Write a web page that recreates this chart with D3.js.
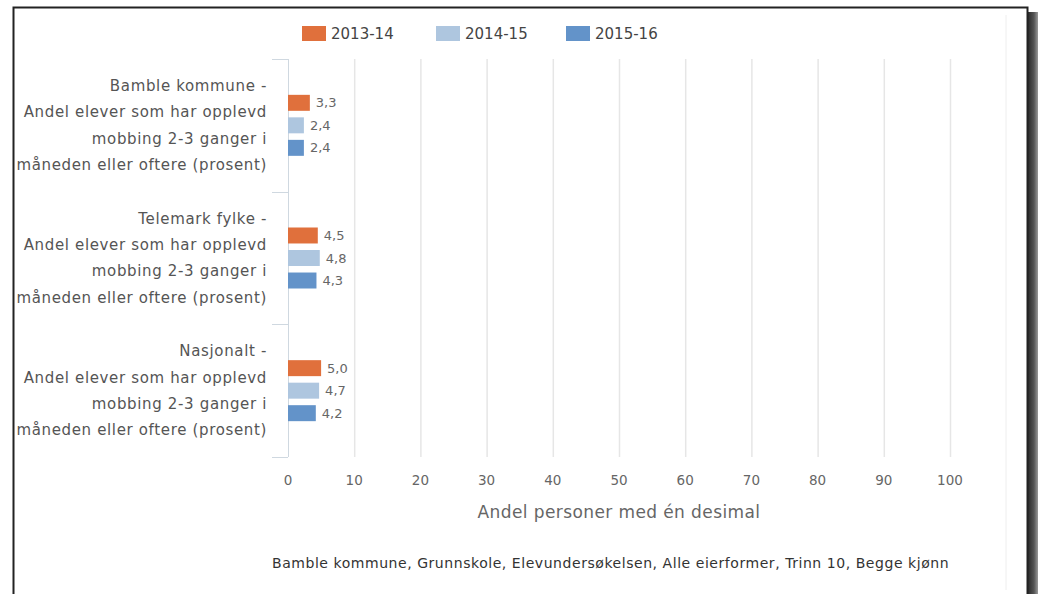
<!DOCTYPE html>
<html>
<head>
<meta charset="utf-8">
<script src="https://cdn.jsdelivr.net/npm/d3@7"></script>
<style>
    html, body { margin: 0; padding: 0; background: #fff; }
    svg { display: block; font-family: "DejaVu Sans", Verdana, sans-serif; }
</style>
</head>
<body>
<div id="chart"></div>
<script>
// Chart data
const categories = ["Bamble kommune", "Telemark fylke", "Nasjonalt"];
const labelLines = [
    ["Bamble kommune -", "Andel elever som har opplevd", "mobbing 2-3 ganger i", "måneden eller oftere (prosent)"],
    ["Telemark fylke -", "Andel elever som har opplevd", "mobbing 2-3 ganger i", "måneden eller oftere (prosent)"],
    ["Nasjonalt -", "Andel elever som har opplevd", "mobbing 2-3 ganger i", "måneden eller oftere (prosent)"]
];
const seriesNames = ["2013-14", "2014-15", "2015-16"];
const values2013 = [3.3, 4.5, 5.0];
const values2014 = [2.4, 4.8, 4.7];
const values2015 = [2.4, 4.3, 4.2];
const xTicks = [0, 10, 20, 30, 40, 50, 60, 70, 80, 90, 100];
const axisTitle = "Andel personer med én desimal";
const caption = "Bamble kommune, Grunnskole, Elevundersøkelsen, Alle eierformer, Trinn 10, Begge kjønn";

const colors = ["#e0703c", "#aec6df", "#6393c9"];
const allValues = [values2013, values2014, values2015];

const width = 1038, height = 594;
const plot = { left: 288, right: 950, top: 59, bottom: 457 };

const svg = d3.select("#chart")
    .append("svg")
    .attr("width", width)
    .attr("height", height);

// Screenshot frame + drop shadow on the right
const defs = svg.append("defs");
const grad = defs.append("linearGradient").attr("id", "shadow").attr("x1", 0).attr("x2", 1);
grad.append("stop").attr("offset", 0).attr("stop-color", "#2a2a2a");
grad.append("stop").attr("offset", 0.6).attr("stop-color", "#555");
grad.append("stop").attr("offset", 1).attr("stop-color", "#9a9a9a");
svg.append("rect").attr("x", 1028).attr("y", 12).attr("width", 10).attr("height", height - 12)
    .attr("fill", "url(#shadow)");
svg.append("path")
    .attr("d", `M13.5,${height} V7.5 H1027.5 V${height}`)
    .attr("fill", "none").attr("stroke", "#222").attr("stroke-width", 2);
svg.append("line").attr("x1", 1006).attr("x2", 1006).attr("y1", 15).attr("y2", 590)
    .attr("stroke", "#eeeeee");

// Scales
const xScale = d3.scaleLinear().domain([0, 100]).range([plot.left, plot.right]);
const yScale = d3.scaleBand().domain(categories).range([plot.top, plot.bottom]);
const ySub = d3.scaleBand().domain(seriesNames).range([-30.5, 30.5]).paddingInner(0.29);

// Gridlines
svg.append("g")
    .selectAll("line")
    .data(xTicks.slice(1))
    .enter().append("line")
    .attr("x1", d => xScale(d) + 0.5).attr("x2", d => xScale(d) + 0.5)
    .attr("y1", plot.top).attr("y2", plot.bottom)
    .attr("stroke", "#e6e6e6").attr("stroke-width", 1.5);

// Category axis line and ticks between categories
svg.append("line")
    .attr("x1", plot.left + 0.5).attr("x2", plot.left + 0.5)
    .attr("y1", plot.top).attr("y2", plot.bottom)
    .attr("stroke", "#cfd8e0");
const boundaries = categories.map(c => yScale(c)).concat([plot.bottom]);
svg.append("g")
    .selectAll("line")
    .data(boundaries)
    .enter().append("line")
    .attr("x1", 272).attr("x2", plot.left)
    .attr("y1", d => Math.round(d) + 0.5).attr("y2", d => Math.round(d) + 0.5)
    .attr("stroke", "#cfd8e0");

// Category labels (multi-line, right aligned)
const catLabels = svg.append("g");
categories.forEach((c, i) => {
    const cy = yScale(c) + yScale.bandwidth() / 2;
    const lines = labelLines[i];
    lines.forEach((t, j) => {
        catLabels.append("text")
            .attr("x", 267)
            .attr("y", cy + (j - (lines.length - 1) / 2) * 26.3)
            .attr("dy", "0.35em")
            .attr("text-anchor", "end")
            .attr("font-size", 15)
            .attr("letter-spacing", 0.65)
            .attr("fill", "#555")
            .text(t);
    });
});

// Bars + value labels
seriesNames.forEach((s, si) => {
    const g = svg.append("g");
    categories.forEach((c, ci) => {
        const v = allValues[si][ci];
        const y0 = yScale(c) + yScale.bandwidth() / 2 + ySub(s);
        g.append("rect")
            .attr("x", xScale(0))
            .attr("y", y0)
            .attr("width", xScale(v) - xScale(0))
            .attr("height", ySub.bandwidth())
            .attr("fill", colors[si]);
        g.append("text")
            .attr("x", xScale(v) + 6)
            .attr("y", y0 + ySub.bandwidth() / 2)
            .attr("dy", "0.35em")
            .attr("font-size", 13)
            .attr("fill", "#666")
            .text(d3.format(".1f")(v).replace(".", ","));
    });
});

// X axis labels
svg.append("g")
    .selectAll("text")
    .data(xTicks)
    .enter().append("text")
    .attr("x", d => xScale(d))
    .attr("y", 480)
    .attr("dy", "0.35em")
    .attr("text-anchor", "middle")
    .attr("font-size", 13.5)
    .attr("fill", "#666")
    .text(d => d);

// Axis title
svg.append("text")
    .attr("x", (plot.left + plot.right) / 2)
    .attr("y", 512)
    .attr("dy", "0.35em")
    .attr("text-anchor", "middle")
    .attr("font-size", 17)
    .attr("letter-spacing", 0.4)
    .attr("fill", "#666")
    .text(axisTitle);

// Caption
svg.append("text")
    .attr("x", 272)
    .attr("y", 563)
    .attr("dy", "0.35em")
    .attr("font-size", 14)
    .attr("letter-spacing", 0.55)
    .attr("fill", "#333")
    .text(caption);

// Legend
const legendX = [302, 436, 566];
const legend = svg.append("g");
seriesNames.forEach((s, i) => {
    legend.append("rect")
        .attr("x", legendX[i]).attr("y", 26)
        .attr("width", 24).attr("height", 15)
        .attr("fill", colors[i]);
    legend.append("text")
        .attr("x", legendX[i] + 29)
        .attr("y", 34)
        .attr("dy", "0.35em")
        .attr("font-size", 15)
        .attr("fill", "#444")
        .text(s);
});
</script>
</body>
</html>
